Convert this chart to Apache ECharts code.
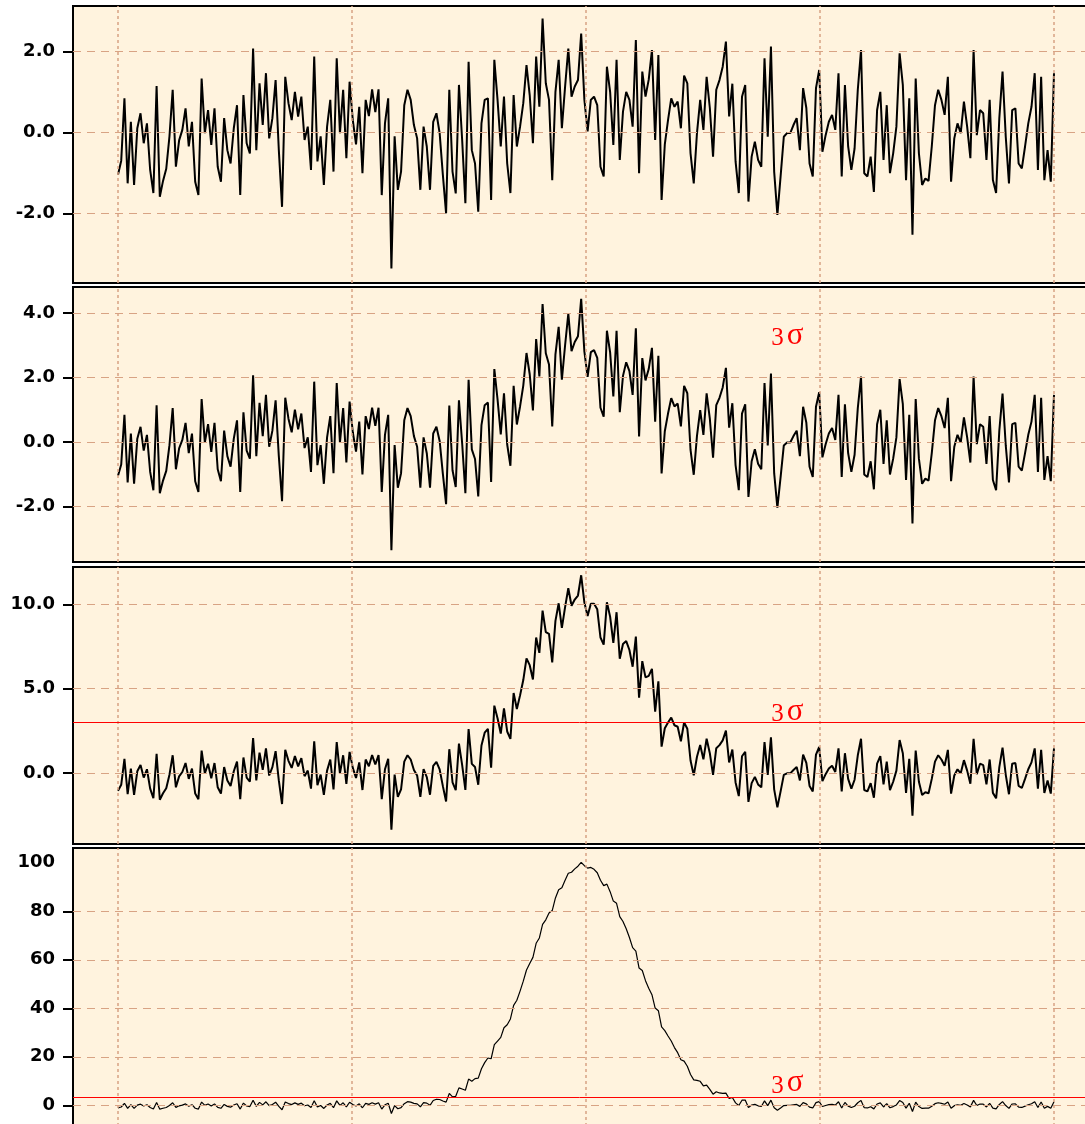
<!DOCTYPE html>
<html>
<head>
<meta charset="utf-8">
<title>Signal emerging from noise</title>
<script src="https://cdn.jsdelivr.net/npm/echarts@6/dist/echarts.min.js"></script>
<style>
  html, body { margin: 0; padding: 0; background: #fff; }
  #main { width: 1085px; height: 1124px; }
</style>
</head>
<body>
<div id="main"></div>
<script>
// samples are evenly spaced over x = 0..4 (the outer vertical grid lines)

// panel 1: noise only
var p1 = [
  -1.05, -0.7, 0.84, -1.26, 0.26, -1.3, 0.1, 0.47, -0.27, 0.22,
  -0.93, -1.5, 1.14, -1.59, -1.2, -0.9, -0.1, 1.05, -0.85, -0.2,
  0.06, 0.59, -0.35, 0.26, -1.22, -1.55, 1.33, -0.02, 0.55, -0.31,
  0.59, -0.85, -1.22, 0.35, -0.44, -0.77, 0.1, 0.67, -1.55, 0.92,
  -0.27, -0.52, 2.07, -0.44, 1.21, 0.18, 1.46, -0.15, 0.35, 1.29,
  -0.44, -1.84, 1.37, 0.72, 0.3, 1.0, 0.39, 0.88, -0.19, 0.14,
  -0.93, 1.87, -0.72, -0.1, -1.3, 0.14, 0.8, -0.97, 1.83, -0.02,
  1.05, -0.64, 1.25, 0.3, -0.3, 0.63, -1.01, 0.8, 0.4, 1.06,
  0.5, 1.06, -1.55, 0.22, 0.84, -3.36, -0.1, -1.42, -0.97, 0.67,
  1.05, 0.8, 0.18, -0.15, -1.42, 0.14, -0.35, -1.42, 0.26, 0.47,
  -0.02, -1.05, -2.0, 1.05, -0.97, -1.51, 1.17, -0.19, -1.75, 1.74,
  -0.44, -0.77, -1.96, 0.22, 0.8, 0.84, -1.67, 1.79, 0.8, -0.35,
  0.88, -0.77, -1.5, 0.92, -0.35, 0.14, 0.72, 1.66, 0.92, -0.27,
  1.87, 0.63, 2.81, 1.21, 0.8, -1.18, 1.0, 1.79, 0.1, 1.13,
  2.07, 0.88, 1.13, 1.29, 2.44, 0.8, 0.02, 0.8, 0.88, 0.67,
  -0.85, -1.09, 1.62, 1.0, -0.31, 1.79, -0.68, 0.51, 1.0, 0.8,
  0.14, 2.28, -1.01, 1.5, 0.88, 1.3, 2.03, -0.19, 1.91, -1.67,
  -0.3, 0.3, 0.84, 0.63, 0.76, 0.1, 1.4, 1.21, -0.52, -1.26,
  -0.02, 0.8, 0.06, 1.37, 0.6, -0.6, 1.05, 1.29, 1.62, 2.24,
  0.39, 1.2, -0.72, -1.5, 0.88, 1.17, -1.71, -0.6, -0.23, -0.68,
  -0.85, 1.83, -0.11, 2.12, -0.97, -2.04, -1.09, -0.11, -0.02, -0.02,
  0.18, 0.35, -0.44, 1.09, 0.6, -0.77, -1.09, 1.09, 1.54, -0.48,
  -0.07, 0.26, 0.43, 0.06, 1.46, -1.09, 1.17, -0.35, -0.93, -0.4,
  1.05, 2.03, -1.01, -1.09, -0.6, -1.47, 0.55, 1.0, -0.68, 0.67,
  -1.01, -0.52, 0.14, 1.95, 1.17, -1.18, 0.84, -2.53, 1.33, -0.52,
  -1.3, -1.14, -1.2, -0.35, 0.67, 1.05, 0.8, 0.43, 1.37, -1.22,
  -0.15, 0.22, -0.02, 0.76, 0.14, -0.64, 2.03, -0.07, 0.55, 0.47,
  -0.68, 0.8, -1.18, -1.5, 0.35, 1.5, -0.11, -1.26, 0.55, 0.59,
  -0.77, -0.89, -0.35, 0.22, 0.63, 1.46, -0.93, 1.37, -1.18, -0.44,
  -1.22, 1.46
];

// panel 2: weak peak (3 sigma)
var p2 = [
  -1.05, -0.7, 0.84, -1.26, 0.26, -1.3, 0.1, 0.47, -0.27, 0.22,
  -0.93, -1.5, 1.14, -1.59, -1.2, -0.9, -0.1, 1.05, -0.85, -0.2,
  0.06, 0.59, -0.35, 0.26, -1.22, -1.55, 1.33, -0.02, 0.55, -0.31,
  0.59, -0.85, -1.22, 0.35, -0.44, -0.77, 0.1, 0.67, -1.55, 0.92,
  -0.27, -0.52, 2.07, -0.44, 1.21, 0.18, 1.46, -0.15, 0.35, 1.29,
  -0.44, -1.84, 1.37, 0.72, 0.3, 1.0, 0.39, 0.88, -0.19, 0.14,
  -0.93, 1.87, -0.72, -0.1, -1.3, 0.14, 0.8, -0.97, 1.83, -0.02,
  1.05, -0.64, 1.25, 0.3, -0.3, 0.63, -1.01, 0.8, 0.4, 1.06,
  0.5, 1.06, -1.55, 0.22, 0.84, -3.36, -0.1, -1.42, -0.97, 0.67,
  1.05, 0.8, 0.18, -0.15, -1.42, 0.14, -0.35, -1.42, 0.26, 0.47,
  0.03, -0.99, -1.93, 1.13, -0.88, -1.4, 1.29, -0.05, -1.59, 1.93,
  -0.23, -0.53, -1.69, 0.52, 1.14, 1.22, -1.24, 2.26, 1.32, 0.23,
  1.51, -0.08, -0.74, 1.74, 0.54, 1.1, 1.75, 2.76, 2.1, 0.98,
  3.19, 2.03, 4.28, 2.75, 2.4, 0.48, 2.72, 3.57, 1.93, 3.0,
  3.98, 2.82, 3.1, 3.28, 4.44, 2.8, 2.02, 2.79, 2.85, 2.61,
  1.06, 0.78, 3.45, 2.78, 1.41, 3.45, 0.92, 2.05, 2.47, 2.2,
  1.46, 3.53, 0.17, 2.6, 1.91, 2.26, 2.92, 0.63, 2.67, -0.98,
  0.33, 0.88, 1.36, 1.1, 1.19, 0.48, 1.74, 1.51, -0.25, -1.02,
  0.19, 0.99, 0.22, 1.51, 0.72, -0.49, 1.14, 1.37, 1.69, 2.3,
  0.44, 1.2, -0.72, -1.5, 0.88, 1.17, -1.71, -0.6, -0.23, -0.68,
  -0.85, 1.83, -0.11, 2.12, -0.97, -2.04, -1.09, -0.11, -0.02, -0.02,
  0.18, 0.35, -0.44, 1.09, 0.6, -0.77, -1.09, 1.09, 1.54, -0.48,
  -0.07, 0.26, 0.43, 0.06, 1.46, -1.09, 1.17, -0.35, -0.93, -0.4,
  1.05, 2.03, -1.01, -1.09, -0.6, -1.47, 0.55, 1.0, -0.68, 0.67,
  -1.01, -0.52, 0.14, 1.95, 1.17, -1.18, 0.84, -2.53, 1.33, -0.52,
  -1.3, -1.14, -1.2, -0.35, 0.67, 1.05, 0.8, 0.43, 1.37, -1.22,
  -0.15, 0.22, -0.02, 0.76, 0.14, -0.64, 2.03, -0.07, 0.55, 0.47,
  -0.68, 0.8, -1.18, -1.5, 0.35, 1.5, -0.11, -1.26, 0.55, 0.59,
  -0.77, -0.89, -0.35, 0.22, 0.63, 1.46, -0.93, 1.37, -1.18, -0.44,
  -1.22, 1.46
];

// panel 3: medium peak
var p3 = [
  -1.05, -0.7, 0.84, -1.26, 0.26, -1.3, 0.1, 0.47, -0.27, 0.22,
  -0.93, -1.5, 1.14, -1.59, -1.2, -0.9, -0.1, 1.05, -0.85, -0.2,
  0.06, 0.59, -0.35, 0.26, -1.22, -1.55, 1.33, -0.02, 0.55, -0.31,
  0.59, -0.85, -1.22, 0.35, -0.44, -0.77, 0.1, 0.67, -1.55, 0.92,
  -0.27, -0.52, 2.07, -0.44, 1.21, 0.18, 1.46, -0.15, 0.35, 1.29,
  -0.44, -1.84, 1.37, 0.72, 0.3, 1.0, 0.39, 0.88, -0.19, 0.14,
  -0.93, 1.87, -0.72, -0.1, -1.3, 0.14, 0.8, -0.97, 1.83, -0.02,
  1.05, -0.64, 1.25, 0.3, -0.3, 0.63, -1.01, 0.8, 0.4, 1.06,
  0.5, 1.06, -1.55, 0.22, 0.84, -3.36, -0.1, -1.42, -0.97, 0.67,
  1.05, 0.8, 0.18, -0.15, -1.42, 0.23, -0.24, -1.29, 0.42, 0.66,
  0.21, -0.78, -1.69, 1.41, -0.55, -1.02, 1.74, 0.47, -1.0, 2.6,
  0.54, 0.35, -0.7, 1.63, 2.39, 2.62, 0.31, 3.99, 3.24, 2.34,
  3.83, 2.46, 2.02, 4.74, 3.79, 4.6, 5.51, 6.79, 6.39, 5.54,
  8.03, 7.12, 9.63, 8.35, 8.25, 6.56, 9.02, 10.06, 8.6, 9.83,
  10.95, 9.91, 10.28, 10.52, 11.72, 10.1, 9.3, 10.03, 10.03, 9.7,
  8.03, 7.61, 10.12, 9.27, 7.71, 9.53, 6.77, 7.65, 7.82, 7.29,
  6.3, 8.09, 4.46, 6.63, 5.67, 5.76, 6.17, 3.63, 5.43, 1.56,
  2.65, 2.99, 3.28, 2.83, 2.74, 1.88, 2.99, 2.62, 0.74, -0.14,
  0.96, 1.66, 0.81, 2.03, 1.17, -0.11, 1.47, 1.65, 1.93, 2.51,
  0.62, 1.39, -0.56, -1.37, 0.99, 1.26, -1.71, -0.6, -0.23, -0.68,
  -0.85, 1.83, -0.11, 2.12, -0.97, -2.04, -1.09, -0.11, -0.02, -0.02,
  0.18, 0.35, -0.44, 1.09, 0.6, -0.77, -1.09, 1.09, 1.54, -0.48,
  -0.07, 0.26, 0.43, 0.06, 1.46, -1.09, 1.17, -0.35, -0.93, -0.4,
  1.05, 2.03, -1.01, -1.09, -0.6, -1.47, 0.55, 1.0, -0.68, 0.67,
  -1.01, -0.52, 0.14, 1.95, 1.17, -1.18, 0.84, -2.53, 1.33, -0.52,
  -1.3, -1.14, -1.2, -0.35, 0.67, 1.05, 0.8, 0.43, 1.37, -1.22,
  -0.15, 0.22, -0.02, 0.76, 0.14, -0.64, 2.03, -0.07, 0.55, 0.47,
  -0.68, 0.8, -1.18, -1.5, 0.35, 1.5, -0.11, -1.26, 0.55, 0.59,
  -0.77, -0.89, -0.35, 0.22, 0.63, 1.46, -0.93, 1.37, -1.18, -0.44,
  -1.22, 1.46
];

// panel 4: strong peak
var p4 = [
  -1.05, -0.7, 0.84, -1.26, 0.26, -1.3, 0.1, 0.47, -0.27, 0.22,
  -0.93, -1.5, 1.14, -1.59, -1.2, -0.9, -0.1, 1.05, -0.85, -0.2,
  0.06, 0.59, -0.35, 0.26, -1.22, -1.55, 1.33, -0.02, 0.55, -0.31,
  0.59, -0.85, -1.22, 0.35, -0.44, -0.77, 0.1, 0.67, -1.55, 0.92,
  -0.27, -0.52, 2.07, -0.44, 1.21, 0.18, 1.46, -0.15, 0.35, 1.29,
  -0.44, -1.84, 1.37, 0.72, 0.3, 1.0, 0.39, 0.88, -0.19, 0.14,
  -0.93, 1.87, -0.72, -0.1, -1.3, 0.14, 0.8, -0.97, 1.83, -0.02,
  1.05, -0.64, 1.25, 0.3, -0.3, 0.63, -1.01, 0.8, 0.4, 1.06,
  0.5, 1.06, -1.55, 0.22, 0.84, -3.36, -0.1, -1.42, -0.97, 0.67,
  1.5, 1.3, 0.8, 0.6, -0.6, 1.1, 0.9, 0.0, 2.0, 2.5,
  2.4, 1.8, 1.3, 4.9, 3.5, 3.7, 7.2, 6.7, 6.2, 10.8,
  9.9, 11.0, 11.2, 15.1, 17.6, 19.5, 19.2, 25.0, 26.5, 28.0,
  32.0, 33.2, 35.6, 41.2, 43.3, 47.1, 51.2, 55.8, 58.5, 61.0,
  66.8, 69.0, 74.6, 76.5, 79.3, 80.3, 85.5, 88.9, 89.7, 92.8,
  95.7, 96.1, 97.5, 98.6, 100.2, 98.8, 97.8, 98.1, 97.3, 95.9,
  92.8, 90.6, 91.2, 88.1, 84.2, 83.3, 77.8, 75.8, 72.8, 69.2,
  65.0, 63.6, 56.6, 55.6, 51.4, 48.3, 45.6, 40.1, 39.0, 32.3,
  30.8, 28.6, 26.5, 23.8, 21.7, 18.8, 18.2, 16.1, 12.7, 10.5,
  10.3, 9.9, 8.0, 8.3, 6.6, 4.6, 5.6, 5.1, 4.9, 5.0,
  2.8, 3.2, 1.0, -0.1, 2.1, 2.2, -0.9, 0.1, 0.4, -0.2,
  -0.5, 1.83, -0.11, 2.12, -0.97, -2.04, -1.09, -0.11, -0.02, -0.02,
  0.18, 0.35, -0.44, 1.09, 0.6, -0.77, -1.09, 1.09, 1.54, -0.48,
  -0.07, 0.26, 0.43, 0.06, 1.46, -1.09, 1.17, -0.35, -0.93, -0.4,
  1.05, 2.03, -1.01, -1.09, -0.6, -1.47, 0.55, 1.0, -0.68, 0.67,
  -1.01, -0.52, 0.14, 1.95, 1.17, -1.18, 0.84, -2.53, 1.33, -0.52,
  -1.3, -1.14, -1.2, -0.35, 0.67, 1.05, 0.8, 0.43, 1.37, -1.22,
  -0.15, 0.22, -0.02, 0.76, 0.14, -0.64, 2.03, -0.07, 0.55, 0.47,
  -0.68, 0.8, -1.18, -1.5, 0.35, 1.5, -0.11, -1.26, 0.55, 0.59,
  -0.77, -0.89, -0.35, 0.22, 0.63, 1.46, -0.93, 1.37, -1.18, -0.44,
  -1.22, 1.46
];

// axis values
var xGridLines = [0, 1, 2, 3, 4];
var ticks1 = [-2, 0, 2];
var ticks2 = [-2, 0, 2, 4];
var ticks3 = [0, 5, 10];
var ticks4 = [0, 20, 40, 60, 80, 100];
var gridLines4 = [0, 20, 40, 60, 80];

// 3-sigma markers
var sigmaLine3 = 3;
var sigmaLine4 = 3.3;
var sigmaLabelX = 2.86;
var sigmaLabelY = [3.29, 3.62, 9.2];

var BG = '#fff3de';
var GRIDC = '#d8a384';

var panels = [
  { data: p1, top: 6,   height: 277, min: -3.721, max: 3.119, ticks: ticks1, lines: ticks1, lw: 2, dec: 1, sigma: null, label: null },
  { data: p2, top: 287, height: 275, min: -3.727, max: 4.808, ticks: ticks2, lines: ticks2, lw: 2, dec: 1, sigma: null, label: sigmaLabelY[0] },
  { data: p3, top: 567, height: 277, min: -4.21,  max: 12.21, ticks: ticks3, lines: ticks3, lw: 2, dec: 1, sigma: sigmaLine3, label: sigmaLabelY[1] },
  { data: p4, top: 848, height: 290, min: -13.48, max: 106.1, ticks: ticks4, lines: gridLines4, lw: 1.2, dec: 0, sigma: sigmaLine4, label: sigmaLabelY[2] }
];

var chart = echarts.init(document.getElementById('main'), null, { renderer: 'canvas' });

var grids = [], xAxes = [], yAxes = [], series = [];

panels.forEach(function (p, k) {
  grids.push({
    left: 73, right: -8, top: p.top, height: p.height,
    outerBoundsMode: 'none', containLabel: false,
    show: true, backgroundColor: BG, borderColor: '#000', borderWidth: 2
  });
  xAxes.push({
    gridIndex: k, type: 'value', show: false,
    min: -45 / 234, max: 975 / 234
  });
  yAxes.push({
    gridIndex: k, type: 'value', min: p.min, max: p.max,
    splitLine: { show: false },
    axisLine: { show: true, onZero: false, lineStyle: { color: '#000', width: 2 } },
    axisTick: { show: true, length: 10, customValues: p.lines, lineStyle: { color: '#000', width: 2 } },
    axisLabel: {
      customValues: p.ticks, margin: 18, color: '#000',
      fontFamily: 'DejaVu Sans', fontWeight: 'bold', fontSize: 18,
      formatter: function (v) { return p.dec ? v.toFixed(1) : String(v); }
    }
  });

  // grid lines + 3 sigma marks (drawn under the data)
  var lines = xGridLines.map(function (v) {
    return { xAxis: v, lineStyle: { type: [3, 3], width: 1.5, color: GRIDC } };
  }).concat(p.lines.map(function (v) {
    return { yAxis: v, lineStyle: { type: [8, 6], width: 1, color: GRIDC } };
  }));
  if (p.sigma !== null) {
    lines.push({ yAxis: p.sigma, lineStyle: { type: 'solid', width: 1, color: '#ff0000' } });
  }
  var marker = {
    type: 'line', xAxisIndex: k, yAxisIndex: k, data: [], z: 1, silent: true,
    animation: false,
    markLine: { silent: true, symbol: 'none', label: { show: false }, animation: false, data: lines }
  };
  if (p.label !== null) {
    marker.markPoint = {
      silent: true, animation: false, symbol: 'rect', symbolSize: 1,
      itemStyle: { color: 'transparent' },
      label: {
        show: true, position: 'inside',
        formatter: '{a|3}{b|σ}',
        rich: {
          a: { fontFamily: 'Liberation Serif', fontSize: 25, color: '#ff0000', verticalAlign: 'bottom', padding: [0, 3, 0, 0] },
          b: { fontFamily: 'Liberation Serif', fontSize: 31, color: '#ff0000', verticalAlign: 'bottom' }
        }
      },
      data: [{ coord: [sigmaLabelX, p.label] }]
    };
  }
  series.push(marker);

  var step = 4 / (p.data.length - 1);
  series.push({
    type: 'line', xAxisIndex: k, yAxisIndex: k, z: 3, silent: true,
    animation: false, showSymbol: false, symbol: 'none',
    lineStyle: { color: '#000', width: p.lw },
    data: p.data.map(function (v, i) { return [i * step, v]; })
  });
});

chart.setOption({
  backgroundColor: '#fff',
  animation: false,
  grid: grids,
  xAxis: xAxes,
  yAxis: yAxes,
  series: series
});
</script>
</body>
</html>
